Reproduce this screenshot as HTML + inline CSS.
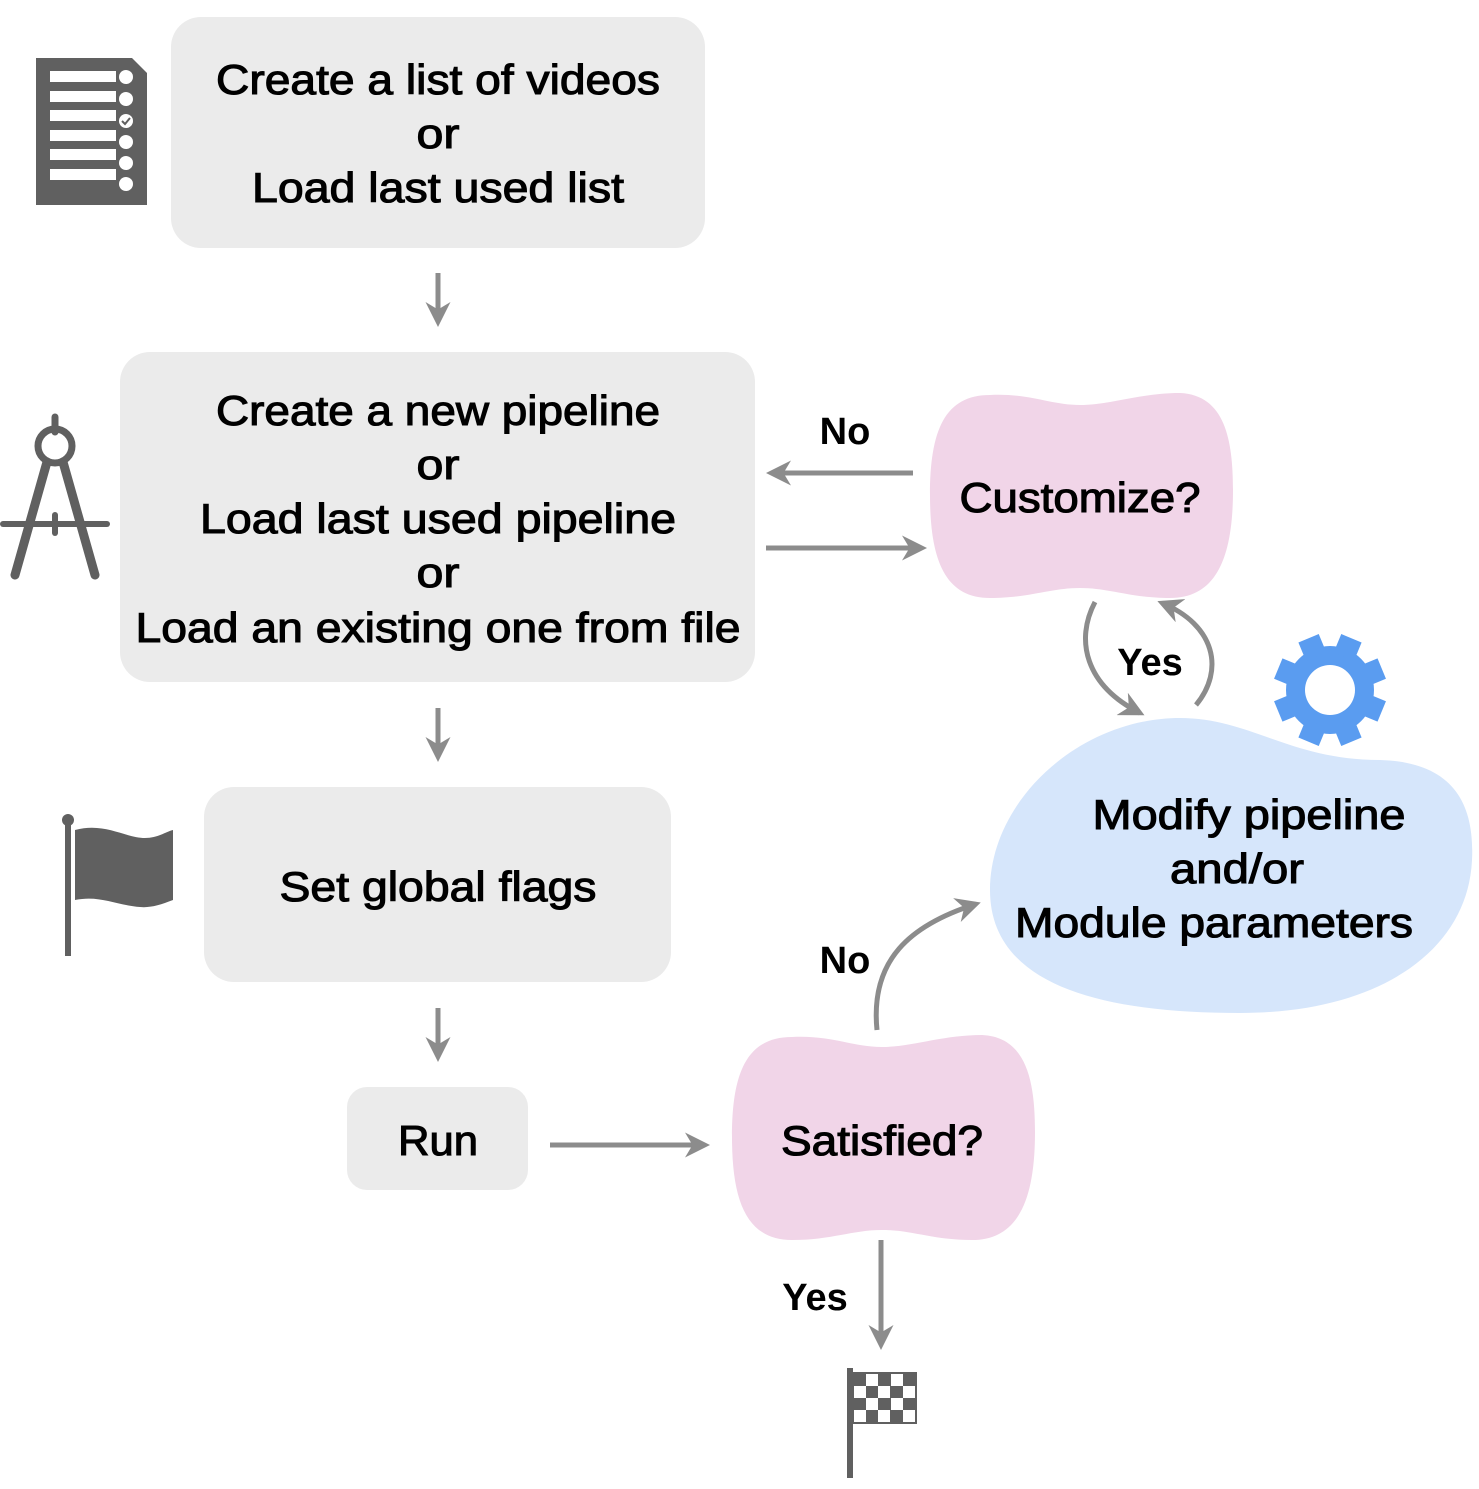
<!DOCTYPE html>
<html><head><meta charset="utf-8"><style>
html,body{margin:0;padding:0;background:#fff;}
svg{display:block;}
text{font-family:"Liberation Sans",Arial,sans-serif;fill:#000;}
.t{font-size:42px;text-anchor:middle;stroke:#000;stroke-width:1.1px;}
.l{font-size:38px;font-weight:bold;text-anchor:middle;}
.a{stroke:#8c8c8c;stroke-width:5;fill:none;}
</style></head><body>
<svg width="1479" height="1489" viewBox="0 0 1479 1489" xmlns="http://www.w3.org/2000/svg">
<defs>
<marker id="ah" viewBox="0 0 10 10" refX="8" refY="5" markerWidth="5" markerHeight="5" orient="auto" markerUnits="strokeWidth">
<path d="M0,0 L10,5 L0,10 L3,5 Z" fill="#8c8c8c"/>
</marker>
</defs>

<rect x="171" y="17" width="534" height="231" rx="30" fill="#ebebeb"/>
<rect x="120" y="352" width="635" height="330" rx="30" fill="#ebebeb"/>
<rect x="204" y="787" width="467" height="195" rx="30" fill="#ebebeb"/>
<rect x="347" y="1087" width="181" height="103" rx="20" fill="#ebebeb"/>

<text class="t" x="438" y="94" textLength="444" lengthAdjust="spacingAndGlyphs">Create a list of videos</text>
<text class="t" x="438" y="148" textLength="43" lengthAdjust="spacingAndGlyphs">or</text>
<text class="t" x="438" y="202" textLength="372" lengthAdjust="spacingAndGlyphs">Load last used list</text>

<text class="t" x="438" y="425" textLength="444" lengthAdjust="spacingAndGlyphs">Create a new pipeline</text>
<text class="t" x="438" y="479" textLength="43" lengthAdjust="spacingAndGlyphs">or</text>
<text class="t" x="438" y="533" textLength="476" lengthAdjust="spacingAndGlyphs">Load last used pipeline</text>
<text class="t" x="438" y="587" textLength="43" lengthAdjust="spacingAndGlyphs">or</text>
<text class="t" x="438" y="642" textLength="605" lengthAdjust="spacingAndGlyphs">Load an existing one from file</text>

<text class="t" x="438" y="901" textLength="317" lengthAdjust="spacingAndGlyphs">Set global flags</text>
<text class="t" x="438" y="1155" textLength="80" lengthAdjust="spacingAndGlyphs">Run</text>

<path d="M990,395 C1030,393 1050,405 1080,405 C1110,405 1140,393 1180,393 C1225,395 1233,440 1233,490 C1233,560 1215,598 1170,598 C1130,598 1110,588 1080,588 C1050,588 1030,598 990,598 C945,598 930,560 930,495 C930,430 945,395 990,395 Z" fill="#f1d5e8"/>
<path d="M990,395 C1030,393 1050,405 1080,405 C1110,405 1140,393 1180,393 C1225,395 1233,440 1233,490 C1233,560 1215,598 1170,598 C1130,598 1110,588 1080,588 C1050,588 1030,598 990,598 C945,598 930,560 930,495 C930,430 945,395 990,395 Z" fill="#f1d5e8" transform="translate(-198,642)"/>
<text class="t" x="1080" y="512" textLength="241" lengthAdjust="spacingAndGlyphs">Customize?</text>
<text class="t" x="882" y="1155" textLength="202" lengthAdjust="spacingAndGlyphs">Satisfied?</text>

<path d="M1180,718 C1250,718 1290,760 1380,760 C1450,762 1475,800 1472,860 C1468,950 1380,1013 1240,1013 C1100,1013 990,985 990,890 C990,800 1080,718 1180,718 Z" fill="#d6e6fb"/>
<text class="t" x="1249" y="829" textLength="313" lengthAdjust="spacingAndGlyphs">Modify pipeline</text>
<text class="t" x="1237" y="883" textLength="134" lengthAdjust="spacingAndGlyphs">and/or</text>
<text class="t" x="1214" y="937" textLength="398" lengthAdjust="spacingAndGlyphs">Module parameters</text>

<g transform="translate(1330,690) rotate(22.5)" fill="#5a9cf0">
<circle r="44"/>
<g id="tooth"><rect x="-11" y="-56" width="22" height="20"/></g>
<use href="#tooth" transform="rotate(45)"/><use href="#tooth" transform="rotate(90)"/><use href="#tooth" transform="rotate(135)"/>
<use href="#tooth" transform="rotate(180)"/><use href="#tooth" transform="rotate(225)"/><use href="#tooth" transform="rotate(270)"/><use href="#tooth" transform="rotate(315)"/>
<circle r="25" fill="#fff"/>
</g>

<line class="a" x1="438" y1="273" x2="438" y2="322" marker-end="url(#ah)"/>
<line class="a" x1="438" y1="708" x2="438" y2="757" marker-end="url(#ah)"/>
<line class="a" x1="438" y1="1008" x2="438" y2="1057" marker-end="url(#ah)"/>
<line class="a" x1="550" y1="1145" x2="705" y2="1145" marker-end="url(#ah)"/>
<line class="a" x1="913" y1="473" x2="771" y2="473" marker-end="url(#ah)"/>
<line class="a" x1="766" y1="548" x2="922" y2="548" marker-end="url(#ah)"/>
<path class="a" d="M1095,602 C1075,640 1085,685 1140,713" marker-end="url(#ah)"/>
<path class="a" d="M1196,705 C1225,670 1215,625 1162,603" marker-end="url(#ah)"/>
<path class="a" d="M877,1030 C870,960 910,925 976,904" marker-end="url(#ah)"/>
<line class="a" x1="881" y1="1240" x2="881" y2="1345" marker-end="url(#ah)"/>

<text class="l" x="845" y="444">No</text>
<text class="l" x="1150" y="675">Yes</text>
<text class="l" x="845" y="973">No</text>
<text class="l" x="815" y="1310">Yes</text>

<path d="M36,58 L132,58 L147,73 L147,205 L36,205 Z" fill="#606060"/>
<g fill="#fff">
<rect x="50" y="71" width="66" height="11"/><rect x="50" y="91" width="66" height="11"/><rect x="50" y="110" width="66" height="11"/>
<rect x="50" y="130" width="66" height="11"/><rect x="50" y="149" width="66" height="11"/><rect x="50" y="169" width="66" height="11"/>
<circle cx="126" cy="77" r="7"/><circle cx="126" cy="99" r="7"/><circle cx="126" cy="121" r="7"/>
<circle cx="126" cy="142" r="7"/><circle cx="126" cy="163" r="7"/><circle cx="126" cy="184" r="7"/>
</g>
<path d="M122,121 l3,3 l5,-6" stroke="#606060" stroke-width="2" fill="none"/>

<g stroke="#606060" stroke-linecap="round" fill="none">
<line x1="55" y1="417" x2="55" y2="432" stroke-width="7"/>
<circle cx="55" cy="446" r="17" stroke-width="7"/>
<line x1="47" y1="462" x2="15" y2="575" stroke-width="9"/>
<line x1="63" y1="462" x2="95" y2="575" stroke-width="9"/>
<line x1="3" y1="524" x2="107" y2="524" stroke-width="6"/>
<line x1="55" y1="515" x2="55" y2="533" stroke-width="6"/>
</g>

<rect x="65" y="820" width="6" height="136" fill="#606060"/>
<circle cx="68" cy="820" r="6" fill="#606060"/>
<path d="M75,830 C105,822 125,838 145,838 C158,838 165,832 173,830 L173,900 C160,905 150,908 140,907 C115,905 100,895 75,900 Z" fill="#606060"/>

<rect x="847" y="1368" width="6" height="110" fill="#606060"/>
<rect x="853" y="1372" width="64" height="52" fill="#606060"/>
<g fill="#fff">
<rect x="866" y="1374" width="12" height="12"/><rect x="891" y="1374" width="12" height="12"/>
<rect x="854" y="1386" width="12" height="12"/><rect x="878" y="1386" width="12" height="12"/><rect x="903" y="1386" width="12" height="12"/>
<rect x="866" y="1398" width="12" height="12"/><rect x="891" y="1398" width="12" height="12"/>
<rect x="854" y="1410" width="12" height="12"/><rect x="878" y="1410" width="12" height="12"/><rect x="903" y="1410" width="12" height="12"/>
</g>
</svg>
</body></html>
